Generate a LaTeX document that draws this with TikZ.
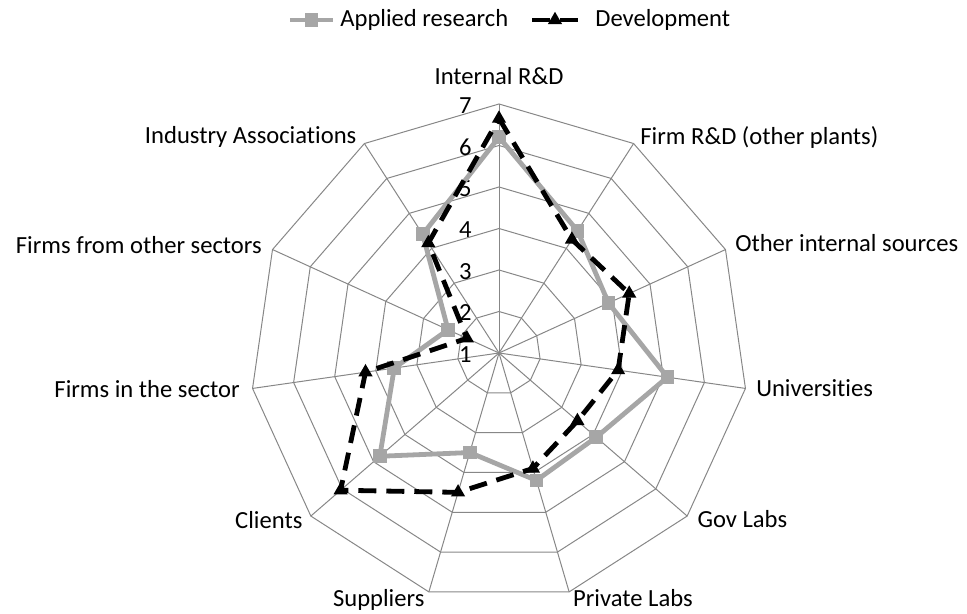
\documentclass[tikz,border=0pt]{standalone}
\usepackage{fontspec}
\setmainfont[RawFeature={-liga;-clig;-calt;-dlig}]{Carlito}
\usetikzlibrary{shapes.geometric}
\begin{document}
\begin{tikzpicture}[x=0.5pt, y=0.5pt, font=\fontsize{12.3}{14.8}\selectfont]
	\tikzset{grille/.style={draw=black!47, line width=0.5pt},
	appli/.style={draw=black!35, line width=2.4pt, line join=round},
	devel/.style={draw=black, line width=2.4pt, dash pattern=on 9pt off 5pt},
	carre/.style={rectangle, fill=black!35, minimum size=6.8pt, inner sep=0pt},
	tri/.style={regular polygon, regular polygon sides=3, fill=black, minimum size=8.2pt, inner sep=0pt},
	etiq/.style={inner sep=0pt}};
	\useasboundingbox (-499,-261) rectangle (468,353);

	% toile
	\foreach \k in {0,...,10} {
		\coordinate (O\k) at ({90-\k*360/11}:249);
		\draw[grille] (0,0) -- (O\k);
	}
	\foreach \v in {1,...,6} {
		\draw[grille] (90:\v*41.5) \foreach \k in {1,...,10} {-- ({90-\k*360/11}:\v*41.5)} -- cycle;
	}
	\foreach \v in {1,...,7} {
		\node[anchor=east, inner sep=1pt] (t\v) at (-25, {(\v-1)*41.5-1.5}) {\v};
	}

	% noms des axes
	\node[etiq, anchor=base] (n0) at ([yshift=9.5pt]O0) {Internal R\&D};
	\node[etiq, anchor=base west] (n1) at ([xshift=3.2pt, yshift=-0.3pt]O1) {Firm R\&D (other plants)};
	\node[etiq, anchor=base west] (n2) at ([xshift=4.7pt, yshift=-1pt]O2) {Other internal sources};
	\node[etiq, anchor=base west] (n3) at ([xshift=5.2pt, yshift=-3.8pt]O3) {Universities};
	\node[etiq, anchor=base west] (n4) at ([xshift=5pt, yshift=-5.5pt]O4) {Gov Labs};
	\node[etiq, anchor=base west] (n5) at ([xshift=1.8pt, yshift=-7.4pt]O5) {Private Labs};
	\node[etiq, anchor=base east] (n6) at ([xshift=-2pt, yshift=-7.4pt]O6) {Suppliers};
	\node[etiq, anchor=base east] (n7) at ([xshift=-4pt, yshift=-6.3pt]O7) {Clients};
	\node[etiq, anchor=base east] (n8) at ([xshift=-6.2pt, yshift=-4.5pt]O8) {Firms in the sector};
	\node[etiq, anchor=base east] (n9) at ([xshift=-5.2pt, yshift=-1.9pt]O9) {Firms from other sectors};
	\node[etiq, anchor=base east] (n10) at ([xshift=-3.8pt]O10) {Industry Associations};

	% series
	\foreach \v [count=\k from 0] in {6.2,4.5,3.9,5.1,4.1,4.2,3.5,4.8,3.55,2.35,4.4} {
		\coordinate (A\k) at ({90-\k*360/11}:{(\v-1)*41.5});
	}
	\foreach \v [count=\k from 0] in {6.65,4.25,4.45,3.9,3.5,3.9,4.5,6.05,4.25,1.85,4.15} {
		\coordinate (D\k) at ({90-\k*360/11}:{(\v-1)*41.5});
	}
	\draw[appli] (A0) \foreach \k in {1,...,10} {-- (A\k)} -- cycle;
	\foreach \k in {0,...,10} \node[carre] (mA\k) at (A\k) {};
	\draw[devel] (D0) \foreach \k in {1,...,10} {-- (D\k)} -- cycle;
	\foreach \k in {0,...,10} \node[tri] (mD\k) at (D\k) {};

	% legende
	\coordinate (la1) at (-209,333);
	\coordinate (la2) at (-166,333);
	\draw[appli] (la1) -- (la2);
	\node[carre] (lma) at (-187.5,333) {};
	\node[etiq, anchor=west] (lta) at (-159,333) {Applied research};
	\coordinate (ld1) at (33,333);
	\coordinate (ld2) at (83,333);
	\draw[devel] (ld1) -- (ld2);
	\node[tri] (lmd) at (56,333) {};
	\node[etiq, anchor=west] (ltd) at (96,333) {Development};
\end{tikzpicture}
\end{document}
